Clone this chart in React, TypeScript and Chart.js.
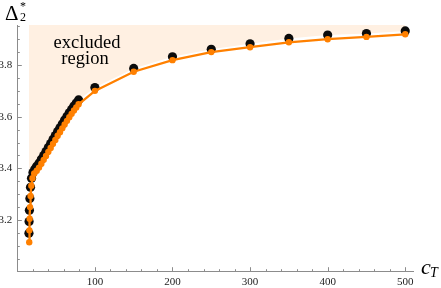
import React, { useEffect, useRef } from "react";
import { Chart, registerables } from "chart.js";

Chart.register(...registerables);

// Upper bound points (black)
const boundCT = [15.0, 15.2, 15.6, 16.2, 17.0, 18.3, 20.2, 22.5, 25, 28, 31, 34, 37, 40, 43, 46, 49, 52, 55, 58, 61, 64, 67, 70, 73, 76, 79, 100, 150, 200, 250, 300, 350, 400, 450, 500];
const boundDelta = [3.149, 3.194, 3.238, 3.283, 3.327, 3.362, 3.384, 3.397, 3.408, 3.420, 3.435, 3.450, 3.465, 3.481, 3.496, 3.512, 3.527, 3.543, 3.557, 3.572, 3.587, 3.601, 3.615, 3.628, 3.641, 3.653, 3.665, 3.713, 3.787, 3.832, 3.861, 3.882, 3.903, 3.916, 3.922, 3.932];

// Orange points / line
const orangeCT = [15.4, 15.6, 15.9, 16.4, 17.1, 18.1, 19.6, 21.8, 25, 28, 31, 34, 37, 40, 43, 46, 49, 52, 55, 58, 61, 64, 67, 70, 73, 76, 79, 100, 150, 200, 250, 300, 350, 400, 450, 500];
const orangeDelta = [3.114, 3.160, 3.205, 3.250, 3.293, 3.333, 3.362, 3.380, 3.391, 3.403, 3.418, 3.433, 3.448, 3.464, 3.479, 3.495, 3.510, 3.526, 3.540, 3.555, 3.570, 3.584, 3.598, 3.611, 3.624, 3.636, 3.648, 3.700, 3.774, 3.819, 3.850, 3.869, 3.888, 3.900, 3.909, 3.919];

const xTickVals = [100, 200, 300, 400, 500];
const yTickVals = [3.2, 3.4, 3.6, 3.8];
const xMinorStep = 20;
const yMinorStep = 0.05;

const X_MIN = 0;
const X_MAX = 510;
const Y_MIN = 3.0;
const Y_MAX = 3.955;

const SERIF = '"Liberation Serif", "Times New Roman", serif';
const AXIS_COLOR = "#8c8c8c";

const annotatePlugin = {
  id: "annotate",
  afterDatasetsDraw(chart: any) {
    const ctx = chart.ctx;
    const xs = chart.scales.x;
    const ys = chart.scales.y;
    const left = chart.chartArea.left;
    const bottom = chart.chartArea.bottom;
    ctx.save();
    ctx.strokeStyle = AXIS_COLOR;
    ctx.lineWidth = 1;
    // x ticks (inward)
    for (let v = xMinorStep; v <= X_MAX; v += xMinorStep) {
      const px = Math.round(xs.getPixelForValue(v)) + 0.5;
      const major = v % 100 === 0;
      ctx.beginPath();
      ctx.moveTo(px, bottom);
      ctx.lineTo(px, bottom - (major ? 4.5 : 2.5));
      ctx.stroke();
    }
    // y ticks (inward)
    for (let i = 1; Y_MIN + i * yMinorStep <= Y_MAX; i++) {
      const v = Y_MIN + i * yMinorStep;
      const py = Math.round(ys.getPixelForValue(v)) + 0.5;
      const major = i % 4 === 0;
      ctx.beginPath();
      ctx.moveTo(left, py);
      ctx.lineTo(left + (major ? 4.5 : 2.5), py);
      ctx.stroke();
    }

    ctx.fillStyle = "#000";
    ctx.textBaseline = "alphabetic";
    // excluded region label
    ctx.font = `18.5px ${SERIF}`;
    ctx.textAlign = "center";
    ctx.fillText("excluded", 87, 48);
    ctx.fillText("region", 85, 64);

    // y axis label Δ_2^*
    ctx.textAlign = "left";
    ctx.font = `21px ${SERIF}`;
    ctx.fillText("Δ", 5, 20);
    ctx.font = `12px ${SERIF}`;
    ctx.fillText("2", 20, 21);
    ctx.fillText("*", 20, 10);

    // x axis label c_T
    ctx.font = `italic 22px ${SERIF}`;
    ctx.fillText("c", 421, 274);
    ctx.font = `italic 14px ${SERIF}`;
    ctx.fillText("T", 430, 277);
    ctx.restore();
  },
};

export default function App() {
  const canvasRef = useRef<HTMLCanvasElement | null>(null);

  useEffect(() => {
    if (!canvasRef.current) return;
    const boundPts = boundCT.map((c, i) => ({ x: c, y: boundDelta[i] }));
    const orangePts = orangeCT.map((c, i) => ({ x: c, y: orangeDelta[i] }));

    const chart = new Chart(canvasRef.current, {
      type: "scatter",
      data: {
        datasets: [
          {
            label: "fit",
            data: orangePts,
            showLine: true,
            borderColor: "#ff8000",
            backgroundColor: "#ff8000",
            borderWidth: 2.3,
            pointRadius: 3.2,
            pointBorderWidth: 0,
            pointHoverRadius: 3.2,
            tension: 0,
          },
          {
            label: "bound",
            data: boundPts,
            showLine: false,
            backgroundColor: "#0b0b0b",
            borderColor: "#0b0b0b",
            pointRadius: 4.6,
            pointBorderWidth: 0,
          },
          {
            label: "excluded",
            data: boundPts,
            showLine: true,
            borderWidth: 0,
            borderColor: "rgba(0,0,0,0)",
            backgroundColor: "#fff0e2",
            pointRadius: 0,
            fill: "end",
          },
        ],
      },
      options: {
        responsive: true,
        maintainAspectRatio: false,
        animation: false,
        events: [],
        layout: { padding: { top: 25, right: 28, left: 0, bottom: 0 } },
        plugins: {
          legend: { display: false },
          tooltip: { enabled: false },
          title: { display: false },
        },
        scales: {
          x: {
            type: "linear",
            min: X_MIN,
            max: X_MAX,
            grid: { display: false, drawTicks: false },
            border: { display: true, color: AXIS_COLOR, width: 1 },
            afterBuildTicks: (axis: any) => {
              axis.ticks = xTickVals.map((v) => ({ value: v }));
            },
            afterFit: (axis: any) => {
              axis.height = 16.3;
            },
            ticks: {
              padding: 4,
              color: "#222",
              font: { family: SERIF, size: 11 },
              maxRotation: 0,
              autoSkip: false,
              callback: (v: any) => String(v),
            },
          },
          y: {
            type: "linear",
            min: Y_MIN,
            max: Y_MAX,
            grid: { display: false, drawTicks: false },
            border: { display: true, color: AXIS_COLOR, width: 1 },
            afterBuildTicks: (axis: any) => {
              axis.ticks = yTickVals.map((v) => ({ value: v }));
            },
            afterFit: (axis: any) => {
              axis.width = 17.3;
            },
            ticks: {
              padding: 5,
              color: "#222",
              font: { family: SERIF, size: 11 },
              autoSkip: false,
              callback: (v: any) => Number(v).toFixed(1),
            },
          },
        },
      },
      plugins: [annotatePlugin],
    } as any);

    return () => chart.destroy();
  }, []);

  return (
    <div style={{ position: "fixed", left: 0, top: 0, width: 441, height: 288, background: "#fff" }}>
      <canvas ref={canvasRef} />
    </div>
  );
}
